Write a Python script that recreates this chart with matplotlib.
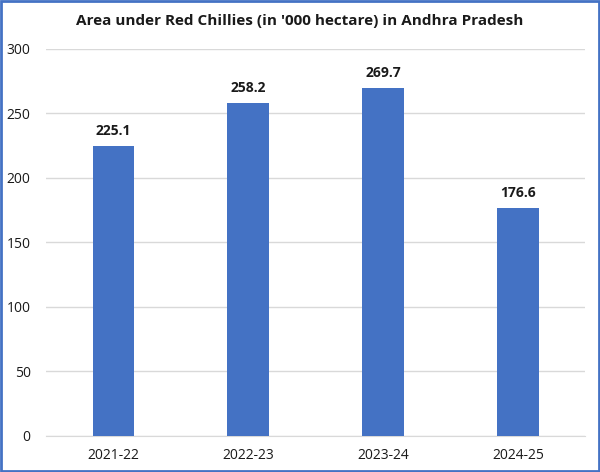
import matplotlib
matplotlib.use('Agg')
import matplotlib.pyplot as plt
from matplotlib.patches import Rectangle

years = ['2021-22', '2022-23', '2023-24', '2024-25']
area = [225.1, 258.2, 269.7, 176.6]
yticks = [0, 50, 100, 150, 200, 250, 300]

plt.rcParams['font.family'] = ['Open Sans', 'DejaVu Sans']

fig = plt.figure(figsize=(6, 4.72), dpi=100)
ax = fig.add_axes([0.0767, 0.0763, 0.899, 0.8199])

x = list(range(len(years)))
ax.bar(x, area, width=0.31, color='#4472C4', zorder=3)
for xi, v in zip(x, area):
    ax.text(xi, v + 6, f'{v:.1f}', ha='center', va='bottom',
            fontsize=10, fontweight='bold', color='#1a1a1a')

ax.set_xlim(-0.5, len(years) - 0.5)
ax.set_ylim(0, 300)
ax.set_yticks(yticks)
ax.set_xticks(x)
ax.set_xticklabels(years)
ax.tick_params(axis='both', length=0, labelsize=10, colors='#1a1a1a')
ax.tick_params(axis='y', pad=11)
ax.tick_params(axis='x', pad=9)
ax.grid(axis='y', color='#d9d9d9', linewidth=1, zorder=0)
for s in ['top', 'right', 'left']:
    ax.spines[s].set_visible(False)
ax.spines['bottom'].set_color('#d9d9d9')

fig.text(0.5, 0.955, "Area under Red Chillies (in '000 hectare) in Andhra Pradesh",
         ha='center', va='center', fontsize=11, fontweight='bold', color='#1a1a1a')

fig.patches.append(Rectangle((0.002, 0.002), 0.996, 0.996, transform=fig.transFigure,
                             fill=False, edgecolor='#4472C4', linewidth=2))

fig.savefig('out.png', dpi=100)
